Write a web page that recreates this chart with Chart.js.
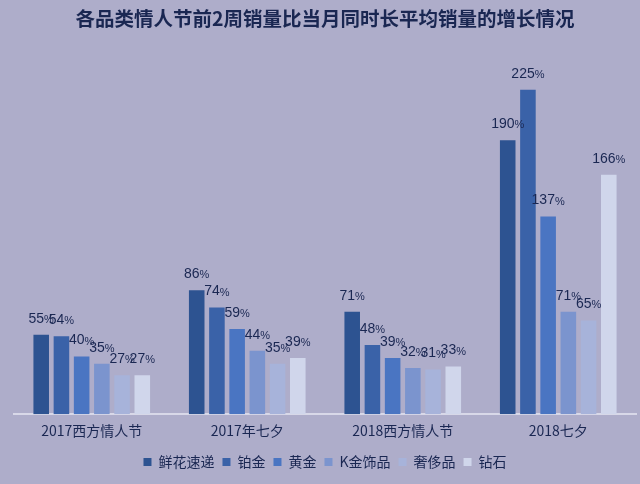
<!DOCTYPE html>
<html><head><meta charset="utf-8">
<script src="https://cdn.jsdelivr.net/npm/chart.js@4/dist/chart.umd.min.js"></script>
<style>
html,body{margin:0;padding:0;background:#aeadca;}
#wrap{width:640px;height:484px;position:relative;}
</style></head>
<body><div id="wrap"><canvas id="c" width="640" height="484"></canvas></div>
<script>
const categories = ['2017西方情人节','2017年七夕','2018西方情人节','2018七夕'];
const seriesNames = ['鲜花速递','铂金','黄金','K金饰品','奢侈品','钻石'];
const flowers = [55, 86, 71, 190];
const platinum = [54, 74, 48, 225];
const gold = [40, 59, 39, 137];
const kgold = [35, 44, 32, 71];
const luxury = [27, 35, 31, 65];
const diamond = [27, 39, 33, 166];
const seriesValues = [flowers, platinum, gold, kgold, luxury, diamond];
const colors = ['#2d5391','#3a62a8','#4a75c2','#7b94ce','#a7b3da','#d0d6eb'];

const FONT = '"Noto Sans CJK SC","Liberation Sans",sans-serif';
const NAVY = '#1a2752';

const labelPlugin = {
  id: 'pctLabels',
  afterDatasetsDraw(chart) {
    const ctx = chart.ctx;
    ctx.save();
    chart.data.datasets.forEach((ds, i) => {
      const meta = chart.getDatasetMeta(i);
      meta.data.forEach((bar, j) => {
        const num = String(ds.data[j]);
        ctx.font = '14px "Liberation Sans",sans-serif';
        const w1 = ctx.measureText(num).width;
        ctx.font = '11px "Liberation Sans",sans-serif';
        const w2 = ctx.measureText('%').width;
        const x0 = bar.x - (w1 + w2) / 2;
        const y = bar.y - 16;
        ctx.fillStyle = NAVY;
        ctx.textBaseline = 'middle';
        ctx.textAlign = 'left';
        ctx.font = '14px "Liberation Sans",sans-serif';
        ctx.fillText(num, x0, y);
        ctx.font = '11px "Liberation Sans",sans-serif';
        ctx.fillText('%', x0 + w1, y + 1);
      });
    });
    ctx.restore();
  }
};

new Chart(document.getElementById('c'), {
  type: 'bar',
  data: {
    labels: categories,
    datasets: seriesNames.map((n, i) => ({
      label: n,
      data: seriesValues[i],
      backgroundColor: colors[i],
      borderWidth: 0,
      barPercentage: 0.77,
      categoryPercentage: 0.78
    }))
  },
  options: {
    responsive: false,
    animation: false,
    layout: { padding: { left: 14, right: 4, top: 0, bottom: 5 } },
    plugins: {
      title: {
        display: true,
        text: '各品类情人节前2周销量比当月同时长平均销量的增长情况',
        color: NAVY,
        font: { family: FONT, size: 19.5, weight: 'bold' },
        padding: { top: 7, bottom: 29 }
      },
      legend: {
        position: 'bottom',
        labels: {
          color: NAVY,
          font: { family: FONT, size: 14 },
          boxWidth: 8, boxHeight: 8,
          padding: 8
        }
      },
      tooltip: { enabled: false }
    },
    scales: {
      x: {
        grid: { display: false, drawTicks: false },
        border: { display: true, color: '#d8d8e8', width: 2 },
        ticks: { color: NAVY, font: { family: FONT, size: 14 }, padding: 8 }
      },
      y: {
        display: false,
        min: 0,
        max: 246
      }
    }
  },
  plugins: [labelPlugin]
});
</script></body></html>
